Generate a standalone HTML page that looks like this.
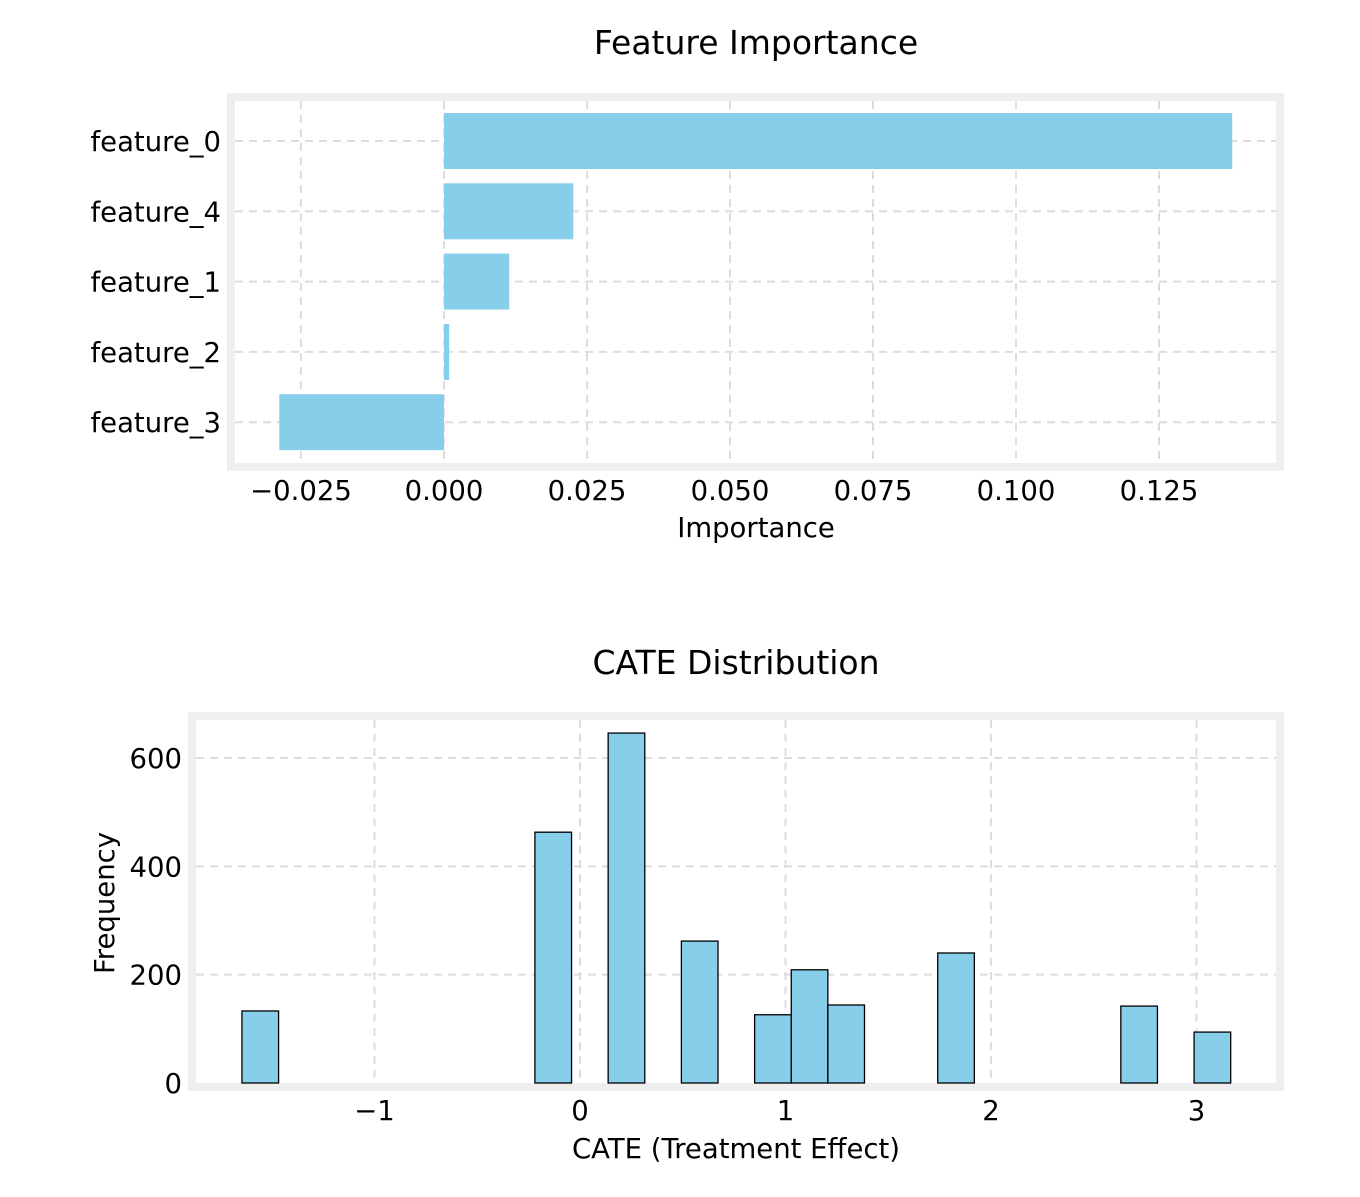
<!DOCTYPE html>
<html><head><meta charset="utf-8"><style>
body{margin:0;background:#fff;}
svg text{font-family:"DejaVu Sans","Liberation Sans",sans-serif;fill:#000;}
</style></head><body>
<svg width="1360" height="1192" viewBox="0 0 1360 1192">
<g id="top"></g>
<g id="bot"></g>
</svg>
<script>
const features=["feature_0","feature_4","feature_1","feature_2","feature_3"];
const importance=[0.1378,0.0226,0.0114,0.0009,-0.0288];
const impTicks=[-0.025,0,0.025,0.05,0.075,0.1,0.125];
const impTickLabels=["\u22120.025","0.000","0.025","0.050","0.075","0.100","0.125"];
const histStart=-1.645;
const histWidth=0.1782;
const histCounts=[133,0,0,0,0,0,0,0,463,0,646,0,262,0,126,209,144,0,0,240,0,0,0,0,142,0,94];
const cateTicks=[-1,0,1,2,3];
const cateTickLabels=["\u22121","0","1","2","3"];
const freqTicks=[0,200,400,600];

const NS="http://www.w3.org/2000/svg";
const FS=27.5, TS=33;
function mk(p,t,a){const e=document.createElementNS(NS,t);for(const k in a)e.setAttribute(k,a[k]);p.appendChild(e);return e;}

const T=document.getElementById('top');
const tx=v=>444+v/0.025*143;
const ty=i=>141+i*70.3;
let fr=mk(T,'rect',{x:231,y:97,width:1049,height:370,fill:'none',stroke:'#efefef','stroke-width':8});


impTicks.forEach((v,i)=>{
 let g=mk(T,'line',{x1:tx(v),x2:tx(v),y1:101,y2:463,stroke:'#ddd','stroke-width':2,'stroke-dasharray':'8,6'});
 
 
 let t=mk(T,'text',{x:tx(v),y:500,'font-size':FS,'text-anchor':'middle'});t.textContent=impTickLabels[i];
 
 
});
features.forEach((f,i)=>{
 let g=mk(T,'line',{x1:235,x2:1276,y1:ty(i),y2:ty(i),stroke:'#ddd','stroke-width':2,'stroke-dasharray':'8,6'});
 
 
 const v=importance[i];
 let b=mk(T,'rect',{x:Math.min(tx(0),tx(v)),y:ty(i)-28,width:Math.abs(tx(v)-tx(0)),height:56,fill:'#87ceeb'});
 
 
 let t=mk(T,'text',{x:221,y:ty(i)+10,'font-size':FS,'text-anchor':'end'});t.textContent=f;
 
 
});
let tt=mk(T,'text',{x:756,y:54,'font-size':TS,'text-anchor':'middle'});tt.textContent='Feature Importance';


let xt=mk(T,'text',{x:756,y:537,'font-size':FS,'text-anchor':'middle'});xt.textContent='Importance';



const B=document.getElementById('bot');
const bx=v=>580+v*205.5;
const by=v=>1083-v*0.5417;
let fr2=mk(B,'rect',{x:192,y:716,width:1088,height:371,fill:'none',stroke:'#efefef','stroke-width':8});


cateTicks.forEach((v,i)=>{
 let g=mk(B,'line',{x1:bx(v),x2:bx(v),y1:720,y2:1083,stroke:'#ddd','stroke-width':2,'stroke-dasharray':'8,6'});
 
 
 let t=mk(B,'text',{x:bx(v),y:1120,'font-size':FS,'text-anchor':'middle'});t.textContent=cateTickLabels[i];
 
 
});
freqTicks.forEach(v=>{
 if(v>0){let g=mk(B,'line',{x1:196,x2:1276,y1:by(v),y2:by(v),stroke:'#ddd','stroke-width':2,'stroke-dasharray':'8,6'});
 
 }
 let t=mk(B,'text',{x:182,y:by(v)+10,'font-size':FS,'text-anchor':'end'});t.textContent=String(v);
 
 
});
histCounts.forEach((c,i)=>{
 if(c<=0)return;
 const x0=bx(histStart+i*histWidth),x1=bx(histStart+(i+1)*histWidth);
 let b=mk(B,'rect',{x:x0,y:by(c),width:x1-x0,height:by(0)-by(c),fill:'#87ceeb',stroke:'#000','stroke-width':1.3});
 
 
});
let t2=mk(B,'text',{x:736,y:674,'font-size':TS,'text-anchor':'middle'});t2.textContent='CATE Distribution';


let x2=mk(B,'text',{x:736,y:1158,'font-size':FS,'text-anchor':'middle'});x2.textContent='CATE (Treatment Effect)';


let y2=mk(B,'text',{x:0,y:0,'font-size':FS,'text-anchor':'middle',transform:'translate(114,903) rotate(-90)'});y2.textContent='Frequency';


</script>
</body></html>
